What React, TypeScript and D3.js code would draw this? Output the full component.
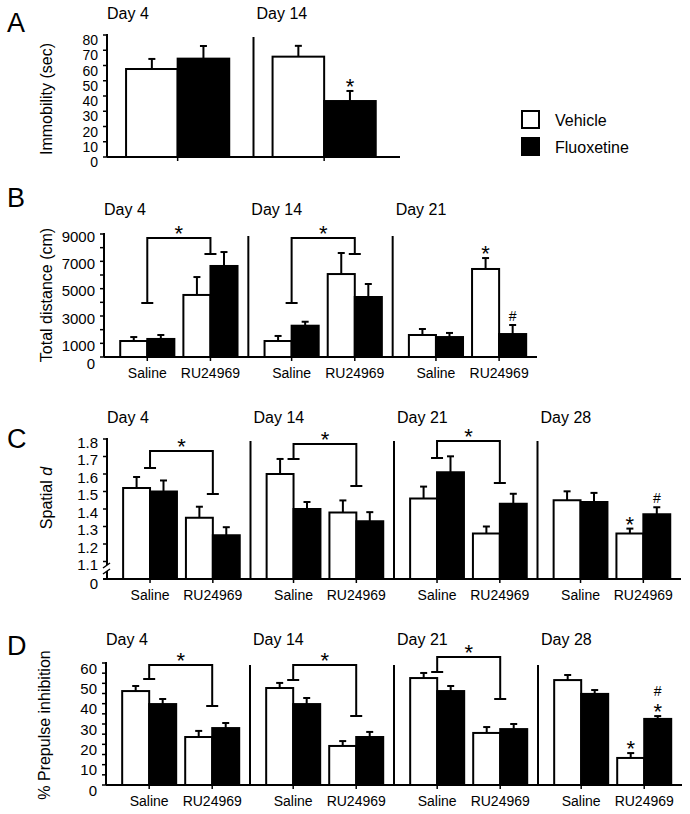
// Figura de cuatro paneles: inmovilidad, distancia, spatial d y PPI
import { useRef, useEffect } from 'react'
import * as d3 from 'd3'

const FONT = '"Liberation Sans", Arial, sans-serif'
const series = ['Vehicle', 'Fluoxetine']
const treatments = ['Saline', 'RU24969']

// Panel A: inmovilidad (sec)
const aDays = ['Day 4', 'Day 14']
const aVehicle = [57.7, 65.8]
const aVehicleErr = [6.6, 7.1]
const aFluoxetine = [64.5, 36.7]
const aFluoxetineErr = [8.3, 6.6]
const aTicks = [0, 10, 20, 30, 40, 50, 60, 70, 80]
const aTickLabels = ['0', '10', '20', '30', '40', '50', '60', '70', '80']

// Panel B: distancia total (cm), orden día x tratamiento
const bDays = ['Day 4', 'Day 14', 'Day 21']
const bVehicle = [1170, 4540, 1170, 6070, 1610, 6440]
const bVehicleErr = [290, 1310, 370, 1540, 440, 800]
const bFluoxetine = [1320, 6660, 2290, 4390, 1460, 1680]
const bFluoxetineErr = [290, 1020, 290, 950, 300, 660]
const bTicks = [0, 1000, 2000, 3000, 4000, 5000, 6000, 7000, 8000, 9000]
const bTickLabels = ['0', '1000', '', '3000', '', '5000', '', '7000', '', '9000']
const bBrackets = [
  { day: 'Day 4', left: 3950, right: 7530, top: 8700 },
  { day: 'Day 14', left: 3950, right: 7530, top: 8700 },
]

// Panel C: spatial d (eje cortado en 1.0)
const cDays = ['Day 4', 'Day 14', 'Day 21', 'Day 28']
const cVehicle = [1.52, 1.35, 1.60, 1.38, 1.46, 1.26, 1.45, 1.26]
const cVehicleErr = [0.063, 0.063, 0.086, 0.069, 0.068, 0.04, 0.051, 0.028]
const cFluoxetine = [1.50, 1.25, 1.40, 1.33, 1.61, 1.43, 1.44, 1.37]
const cFluoxetineErr = [0.063, 0.046, 0.04, 0.052, 0.091, 0.057, 0.052, 0.04]
const cTicks = [1.0, 1.1, 1.2, 1.3, 1.4, 1.5, 1.6, 1.7, 1.8]
const cTickLabels = ['0', '1.1', '1.2', '1.3', '1.4', '1.5', '1.6', '1.7', '1.8']
const cBrackets = [
  { day: 'Day 4', left: 1.634, right: 1.486, top: 1.731 },
  { day: 'Day 14', left: 1.686, right: 1.532, top: 1.771 },
  { day: 'Day 21', left: 1.691, right: 1.549, top: 1.788 },
]

// Panel D: % inhibición prepulso
const dDays = ['Day 4', 'Day 14', 'Day 21', 'Day 28']
const dVehicle = [46.2, 23.6, 47.7, 19.2, 52.6, 25.6, 51.6, 13.3]
const dVehicleErr = [2.5, 3.0, 2.5, 2.4, 2.5, 2.9, 2.5, 2.4]
const dFluoxetine = [39.8, 28.0, 39.8, 23.6, 46.2, 27.5, 44.8, 32.5]
const dFluoxetineErr = [2.5, 2.5, 3.0, 2.5, 2.5, 2.5, 1.9, 1.4]
const dTicks = [0, 5, 10, 15, 20, 25, 30, 35, 40, 45, 50, 55, 60]
const dTickLabels = ['0', '', '10', '', '20', '', '30', '', '40', '', '50', '', '60']
const dBrackets = [
  { day: 'Day 4', left: 52.1, right: 38.9, top: 59.0 },
  { day: 'Day 14', left: 51.6, right: 33.9, top: 59.0 },
  { day: 'Day 21', left: 55.6, right: 42.3, top: 63.0 },
]

// marcas de significancia sobre las barras
const aMarks = [{ day: 'Day 14', cat: '', series: 'Fluoxetine', text: ['*'] }]
const bMarks = [
  { day: 'Day 21', cat: 'RU24969', series: 'Vehicle', text: ['*'] },
  { day: 'Day 21', cat: 'RU24969', series: 'Fluoxetine', text: ['#'] },
]
const cMarks = [
  { day: 'Day 28', cat: 'RU24969', series: 'Vehicle', text: ['*'] },
  { day: 'Day 28', cat: 'RU24969', series: 'Fluoxetine', text: ['#'] },
]
const dMarks = [
  { day: 'Day 28', cat: 'RU24969', series: 'Vehicle', text: ['*'] },
  { day: 'Day 28', cat: 'RU24969', series: 'Fluoxetine', text: ['*', '#'] },
]

const panels = [
  {
    letter: 'A', letterY: 32, days: aDays, cats: [''], vals: [aVehicle, aFluoxetine], errs: [aVehicleErr, aFluoxetineErr],
    domain: [0, 80], x0: 107, x1: 400, base: 157, top: 35, titleY: 19,
    ticks: aTicks, tickLabels: aTickLabels, labelDy: 5, zeroDy: 0, tickFont: 14,
    pi: 0, po: 0.21, align: 0.44, brackets: [], marks: aMarks,
    ylabel: 'Immobility (sec)', ylabX: 52, ylabY: 99,
  },
  {
    letter: 'B', letterY: 207, days: bDays, cats: treatments, vals: [bVehicle, bFluoxetine], errs: [bVehicleErr, bFluoxetineErr],
    domain: [0, 9000], x0: 104, x1: 537, base: 357, top: 234, titleY: 215,
    ticks: bTicks, tickLabels: bTickLabels, labelDy: 2, zeroDy: 4, tickFont: 15,
    pi: 0.143, po: 0.214, align: 0.6, brackets: bBrackets, marks: bMarks,
    ylabel: 'Total distance (cm)', ylabX: 52, ylabY: 295,
  },
  {
    letter: 'C', letterY: 448, days: cDays, cats: treatments, vals: [cVehicle, cFluoxetine], errs: [cVehicleErr, cFluoxetineErr],
    domain: [1.0, 1.8], x0: 107, x1: 681, base: 579, top: 439, titleY: 423,
    ticks: cTicks, tickLabels: cTickLabels, labelDy: 3, zeroDy: 1, tickFont: 15,
    pi: 0.143, po: 0.214, align: 0.6, brackets: cBrackets, marks: cMarks, broken: true,
    ylabel: 'Spatial', ylabX: 52, ylabY: 498,
  },
  {
    letter: 'D', letterY: 655, days: dDays, cats: treatments, vals: [dVehicle, dFluoxetine], errs: [dVehicleErr, dFluoxetineErr],
    domain: [0, 60], x0: 106, x1: 682, base: 785, top: 663, titleY: 645,
    ticks: dTicks, tickLabels: dTickLabels, labelDy: 5, zeroDy: 0, tickFont: 15,
    pi: 0.143, po: 0.214, align: 0.6, brackets: dBrackets, marks: dMarks,
    ylabel: '% Prepulse inhibition', ylabX: 50, ylabY: 725,
  },
]

function drawPanel(svg: any, p: any) {
  const g = svg.append('g')
  const y = d3.scaleLinear().domain(p.domain).range([p.base, p.top])
  const xg = d3.scaleBand().domain(p.days).range([p.x0, p.x1])
  const xc = d3.scaleBand().domain(p.cats).range([0, xg.bandwidth()])
    .paddingInner(p.pi).paddingOuter(p.po).align(p.align)
  const xs = d3.scaleBand().domain(series).range([0, xc.bandwidth()])
  const catCenter = (day: string, cat: string) => xg(day)! + xc(cat)! + xc.bandwidth() / 2
  const barCenter = (day: string, cat: string, s: string) => xg(day)! + xc(cat)! + xs(s)! + xs.bandwidth() / 2

  const rows: any[] = []
  p.days.forEach((day: string, i: number) => {
    p.cats.forEach((cat: string, j: number) => {
      series.forEach((s, k) => {
        const idx = i * p.cats.length + j
        rows.push({ day, cat, s, k, v: p.vals[k][idx], e: p.errs[k][idx] })
      })
    })
  })

  // barras de error (debajo de las barras)
  rows.forEach(d => {
    const cx = barCenter(d.day, d.cat, d.s)
    g.append('line').attr('x1', cx).attr('x2', cx).attr('y1', y(d.v)).attr('y2', y(d.v + d.e))
      .attr('stroke', '#000').attr('stroke-width', 2)
    g.append('line').attr('x1', cx - 3.5).attr('x2', cx + 3.5).attr('y1', y(d.v + d.e)).attr('y2', y(d.v + d.e))
      .attr('stroke', '#000').attr('stroke-width', 2)
  })

  g.selectAll('rect.bar')
    .data(rows)
    .join('rect')
    .attr('class', 'bar')
    .attr('x', (d: any) => xg(d.day)! + xc(d.cat)! + xs(d.s)!)
    .attr('y', (d: any) => y(d.v))
    .attr('width', xs.bandwidth())
    .attr('height', (d: any) => p.base - y(d.v))
    .attr('fill', (d: any) => (d.k === 0 ? '#fff' : '#000'))
    .attr('stroke', '#000')
    .attr('stroke-width', 2)

  // eje Y
  if (p.broken) {
    const b1 = p.base - 14
    const b2 = p.base - 8
    g.append('line').attr('x1', p.x0).attr('x2', p.x0).attr('y1', p.top - 1).attr('y2', b1)
      .attr('stroke', '#000').attr('stroke-width', 2)
    g.append('line').attr('x1', p.x0).attr('x2', p.x0).attr('y1', b2).attr('y2', p.base)
      .attr('stroke', '#000').attr('stroke-width', 2)
    g.append('line').attr('x1', p.x0 - 4).attr('x2', p.x0 + 3).attr('y1', b1 + 3).attr('y2', b1 - 2)
      .attr('stroke', '#000').attr('stroke-width', 1.5)
    g.append('line').attr('x1', p.x0 - 4).attr('x2', p.x0 + 3).attr('y1', b2 + 3).attr('y2', b2 - 2)
      .attr('stroke', '#000').attr('stroke-width', 1.5)
  } else {
    g.append('line').attr('x1', p.x0).attr('x2', p.x0).attr('y1', p.top - 1).attr('y2', p.base)
      .attr('stroke', '#000').attr('stroke-width', 2)
  }
  p.ticks.forEach((t: number, i: number) => {
    if (p.broken && i === 0) return
    g.append('line').attr('x1', p.x0 - 4).attr('x2', p.x0).attr('y1', y(t)).attr('y2', y(t))
      .attr('stroke', '#000').attr('stroke-width', 1.5)
  })
  p.ticks.forEach((t: number, i: number) => {
    if (!p.tickLabels[i]) return
    g.append('text')
      .attr('x', p.x0 - 9)
      .attr('y', y(t) + p.labelDy + (i === 0 ? p.zeroDy : 0))
      .attr('text-anchor', 'end')
      .attr('dominant-baseline', 'central')
      .attr('font-size', p.tickFont)
      .text(p.tickLabels[i])
  })

  // línea base y separadores de días
  g.append('line').attr('x1', p.broken ? p.x0 - 4 : p.x0).attr('x2', p.x1).attr('y1', p.base).attr('y2', p.base)
    .attr('stroke', '#000').attr('stroke-width', 2)
  p.days.forEach((day: string, i: number) => {
    if (i > 0) {
      g.append('line').attr('x1', xg(day)).attr('x2', xg(day)).attr('y1', p.top + 2).attr('y2', p.base)
        .attr('stroke', '#000').attr('stroke-width', 2)
    }
    g.append('text')
      .attr('x', i === 0 ? p.x0 : xg(day)! + 3)
      .attr('y', p.titleY)
      .attr('font-size', 16)
      .text(day)
    p.cats.forEach((cat: string) => {
      const cx = catCenter(day, cat)
      g.append('line').attr('x1', cx).attr('x2', cx).attr('y1', p.base).attr('y2', p.base + 4)
        .attr('stroke', '#000').attr('stroke-width', 1.5)
      if (cat) {
        g.append('text')
          .attr('x', cx)
          .attr('y', p.base + 16)
          .attr('text-anchor', 'middle')
          .attr('dominant-baseline', 'central')
          .attr('font-size', 14)
          .text(cat)
      }
    })
  })

  // corchetes Saline vs RU24969
  p.brackets.forEach((b: any) => {
    const lx = catCenter(b.day, treatments[0])
    const rx = catCenter(b.day, treatments[1])
    const path = `M${lx - 6},${y(b.left)}H${lx + 6}M${lx},${y(b.left)}V${y(b.top)}H${rx}V${y(b.right)}M${rx - 6},${y(b.right)}H${rx + 6}`
    g.append('path').attr('d', path).attr('fill', 'none').attr('stroke', '#000').attr('stroke-width', 2)
    g.append('text')
      .attr('x', (lx + rx) / 2)
      .attr('y', y(b.top) + 3)
      .attr('text-anchor', 'middle')
      .attr('font-size', 22)
      .text('*')
  })

  p.marks.forEach((m: any) => {
    const d = rows.find(r => r.day === m.day && r.cat === m.cat && r.s === m.series)
    let yy = y(d.v + d.e)
    m.text.forEach((t: string) => {
      g.append('text')
        .attr('x', barCenter(m.day, m.cat, m.series))
        .attr('y', t === '*' ? yy + 3 : yy - 4)
        .attr('text-anchor', 'middle')
        .attr('font-size', t === '*' ? 22 : 14)
        .text(t)
      yy -= 16
    })
  })

  // letra del panel y título del eje
  svg.append('text').attr('x', 7).attr('y', p.letterY).attr('font-size', 27).text(p.letter)
  const yl = svg.append('text')
    .attr('transform', `translate(${p.ylabX},${p.ylabY}) rotate(-90)`)
    .attr('text-anchor', 'middle')
    .attr('font-size', 16)
    .text(p.ylabel)
  if (p.broken) yl.append('tspan').attr('font-style', 'italic').text(' d')
}

export default function App() {
  const svgRef = useRef<SVGSVGElement>(null)

  useEffect(() => {
    const svg = d3.select(svgRef.current)
    svg.selectAll('*').remove()
    svg.attr('font-family', FONT).attr('fill', '#000')

    panels.forEach(p => drawPanel(svg, p))

    // leyenda
    const lg = svg.append('g').attr('transform', 'translate(521,110)')
    series.forEach((s, i) => {
      lg.append('rect').attr('x', 1).attr('y', i * 27 + 1).attr('width', 17).attr('height', 17)
        .attr('fill', i === 0 ? '#fff' : '#000').attr('stroke', '#000').attr('stroke-width', 2)
      lg.append('text').attr('x', 34).attr('y', i * 27 + 10)
        .attr('dominant-baseline', 'central').attr('font-size', 16).text(s)
    })
  }, [])

  return (
    <svg
      ref={svgRef}
      width={690}
      height={814}
      style={{ position: 'absolute', left: 0, top: 0, background: '#fff', display: 'block' }}
    />
  )
}
